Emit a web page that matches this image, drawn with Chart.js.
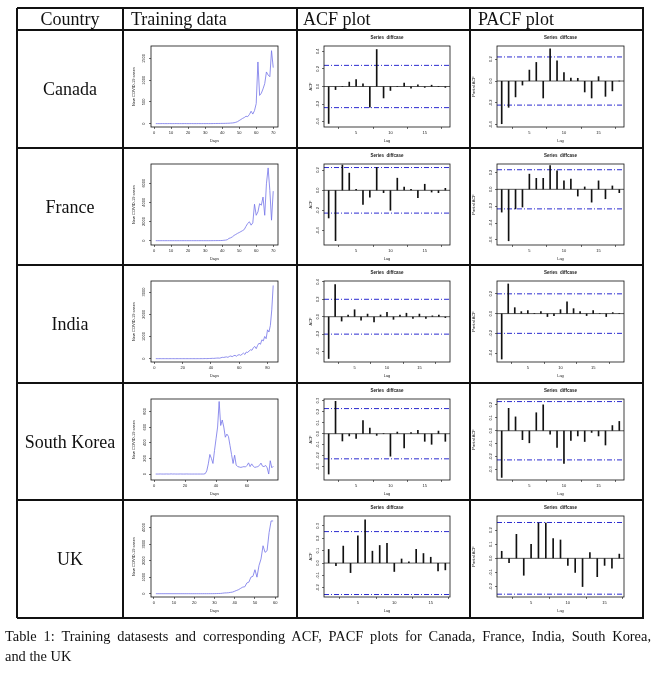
<!DOCTYPE html>
<html><head><meta charset="utf-8">
<script src="https://cdn.jsdelivr.net/npm/chart.js@4.4.1/dist/chart.umd.min.js"></script>
<style>
html,body{margin:0;padding:0;background:#fff;}
body{width:659px;height:673px;position:relative;overflow:hidden;font-family:'Liberation Serif','Times New Roman',serif;color:#111;}
.h{position:absolute;background:#111;height:1.3px;}
.v{position:absolute;background:#111;width:1.3px;}
.t{position:absolute;font-size:18px;white-space:nowrap;line-height:22px;}
.cv{position:absolute;}
#cap{position:absolute;left:5px;top:626px;width:646px;font-size:14.4px;line-height:20px;}
#cap .l1{display:block;text-align:justify;text-align-last:justify;white-space:nowrap;}
</style></head><body>
<div id="root"></div>
<div id="cap"><span class="l1">Table 1: Training datasests and corresponding ACF, PACF plots for Canada, France, India, South Korea,</span>and the UK</div>
<script>
// ---------- data ----------
const countries = ['Canada', 'France', 'India', 'South Korea', 'UK'];
const headers = ['Country', 'Training data', 'ACF plot', 'PACF plot'];
const plotTitle = 'Series  diffcase';

const canadaCases = [0,0,0,0,1,0,0,0,1,0, 0,0,1,0,0,0,0,1,0,0, 0,1,0,0,0,1,0,0,1,0, 1,0,1,1,2,2,3,3,4,5, 5,6,8,9,12,15,20,30,45,70, 95,120,140,170,160,210,285,220,300,460, 1420,650,700,800,920,1190,1120,1080,1680,1290];
const franceCases = [0,0,0,0,0,1,0,0,0,0, 0,0,1,0,0,0,0,0,1,0, 0,0,0,1,0,0,0,2,0,0, 1,2,3,4,6,8,10,12,15,20, 40,60,100,240,300,400,550,650,760,850, 950,1050,1170,1500,1800,1970,1620,1860,3800,2650, 3000,3860,3700,4550,2650,5930,7590,5240,2140,5170];
const indiaCases = [0,0,0,0,0,0,0,0,0,0, 0,0,0,0,0,0,0,0,0,0, 0,0,0,0,0,0,0,0,0,0, 1,0,2,1,3,5,3,6,8,10, 15,12,20,25,30,22,40,60,55,70, 80,60,100,120,90,130,150,110,160,180, 150,200,250,190,300,280,350,400,380,500, 550,450,600,700,650,850,800,1000,900,1300, 1200,1500,2200,3300];
const koreaCases = [0,0,0,1,0,0,0,1,0,0, 2,0,1,0,0,0,1,0,0,0, 1,0,0,0,0,0,0,0,0,0, 0,0,5,40,130,250,200,135,300,450, 600,926,620,690,600,470,510,480,366,250, 135,240,115,95,90,85,90,95,90,110, 143,95,130,100,85,90,95,110,140,100, 95,110,80,0,170,80,100];
const ukCases = [0,0,0,0,0,0,0,0,0,0, 0,0,0,0,0,0,0,0,0,0, 0,0,0,0,1,0,1,2,3,5, 8,12,15,30,45,50,60,80,100,150, 200,250,330,400,420,650,700,1000,1050,1450, 1000,1700,2100,2900,2500,2600,3700,4400,4400];

const canadaAcf = [-0.42,-0.035,0.0,0.05,0.08,0.03,-0.235,0.42,-0.13,-0.045,0.0,0.04,-0.02,0.02,-0.01,0.015,0.0,-0.01];
const canadaPacf = [-0.39,-0.24,-0.145,-0.037,0.10,0.17,-0.155,0.295,0.185,0.077,0.028,0.025,-0.10,-0.155,0.04,-0.14,-0.09,0.0];
const franceAcf = [-0.273,-0.497,0.25,0.17,0.01,-0.14,-0.067,0.227,-0.023,-0.197,0.12,0.033,0.01,-0.073,0.06,-0.017,-0.023,0.02];
const francePacf = [-0.27,-0.61,-0.232,-0.21,0.18,0.13,0.13,0.28,0.22,0.10,0.12,-0.08,0.028,-0.152,0.10,-0.112,0.04,-0.04];
const indiaAcf = [-0.48,0.37,-0.05,0.02,0.08,-0.04,0.03,-0.06,0.02,0.05,-0.03,0.02,0.04,-0.02,0.03,-0.02,0.01,0.02,-0.01];
const indiaPacf = [-0.46,0.30,0.06,0.02,0.03,0.0,0.02,-0.03,-0.02,0.04,0.12,0.05,0.02,-0.02,0.03,0.0,-0.03,0.01,0.0];
const koreaAcf = [-0.366,0.294,-0.066,-0.02,-0.042,0.12,0.051,-0.015,0.0,-0.204,0.015,-0.129,0.01,0.03,-0.069,-0.096,0.024,-0.069];
const koreaPacf = [-0.36,0.173,0.107,-0.069,-0.093,0.139,0.20,-0.027,-0.128,-0.253,-0.075,-0.04,-0.083,-0.013,-0.04,-0.11,0.04,0.072];
const ukAcf = [0.11,-0.022,0.137,-0.077,0.22,0.35,0.096,0.142,0.159,-0.068,0.033,0.01,0.11,0.077,0.047,-0.063,-0.055];
const ukPacf = [0.05,-0.03,0.17,-0.12,0.10,0.25,0.25,0.14,0.13,-0.05,-0.10,-0.20,0.04,-0.13,-0.05,-0.07,0.03];

// confidence bound (±) for each correlogram
const acfBounds = [0.24, 0.225, 0.2, 0.228, 0.254];
const pacfBounds = [0.22, 0.232, 0.2, 0.225, 0.254];

// axis limits  [min, max]
const trainYLim = [[-78,1788],[-450,8000],[-150,3500],[-76,958],[-200,4700]];
const trainXLim = [[-1.8,72.8],[-1.8,72.8],[-2.4,87.4],[-2.0,80.0],[-1.4,61.4]];
const acfYLim = [[-0.46,0.46],[-0.54,0.26],[-0.52,0.41],[-0.42,0.315],[-0.274,0.38]];
const pacfYLim = [[-0.42,0.32],[-0.66,0.30],[-0.49,0.33],[-0.38,0.245],[-0.274,0.30]];

// tick labels
const trainYTicks = [[0,500,1000,1500],[0,2000,4000,6000],[0,1000,2000,3000],[0,200,400,600,800],[0,1000,2000,3000,4000]];
const trainXTicks = [[0,10,20,30,40,50,60,70],[0,10,20,30,40,50,60,70],[0,20,40,60,80],[0,20,40,60],[0,10,20,30,40,50,60]];
const lagTicks = [5, 10, 15];
const acfYTicks = [[-0.4,-0.2,0,0.2,0.4],[-0.4,-0.2,0,0.2],[-0.4,-0.2,0,0.2,0.4],[-0.3,-0.2,-0.1,0,0.1,0.2,0.3],[-0.2,-0.1,0,0.1,0.2,0.3]];
const pacfYTicks = [[-0.4,-0.2,0,0.2],[-0.6,-0.4,-0.2,0,0.2],[-0.4,-0.2,0,0.2],[-0.3,-0.2,-0.1,0,0.1,0.2],[-0.2,-0.1,0,0.1,0.2]];

const series = [canadaCases, franceCases, indiaCases, koreaCases, ukCases];
const acfs = [canadaAcf, franceAcf, indiaAcf, koreaAcf, ukAcf];
const pacfs = [canadaPacf, francePacf, indiaPacf, koreaPacf, ukPacf];

// ---------- layout ----------
const rowTops = [30, 148, 265, 383, 500, 618];
const colX = [17, 123, 297, 470, 643];
const tableTop = 8;
const root = document.getElementById('root');
function el(cls, style, txt) {
  const d = document.createElement('div'); d.className = cls;
  Object.assign(d.style, style); if (txt) d.textContent = txt; root.appendChild(d); return d;
}
[tableTop, ...rowTops].forEach(y => el('h', {left: colX[0] + 'px', top: (y - 0.6) + 'px', width: (colX[4] - colX[0] + 1.3) + 'px'}));
colX.forEach(x => el('v', {left: (x - 0.6) + 'px', top: tableTop + 'px', height: (rowTops[5] - tableTop) + 'px'}));
el('t', {left: colX[0] + 'px', width: (colX[1] - colX[0]) + 'px', textAlign: 'center', top: tableTop + 'px'}, headers[0]);
el('t', {left: (colX[1] + 8) + 'px', top: tableTop + 'px'}, headers[1]);
el('t', {left: (colX[2] + 6) + 'px', top: tableTop + 'px'}, headers[2]);
el('t', {left: (colX[3] + 8) + 'px', top: tableTop + 'px'}, headers[3]);
countries.forEach((c, i) => {
  const top = rowTops[i], h = rowTops[i + 1] - top;
  el('t', {left: colX[0] + 'px', width: (colX[1] - colX[0]) + 'px', textAlign: 'center', top: (top + h / 2 - 11) + 'px'}, c);
});

// ---------- charts ----------
const tinyFont = {family: 'Liberation Sans, Arial, sans-serif', size: 4};
const frame = {
  id: 'frame',
  afterDatasetsDraw(chart) {
    const a = chart.chartArea, ctx = chart.ctx;
    ctx.save(); ctx.strokeStyle = '#111'; ctx.lineWidth = 0.8;
    ctx.strokeRect(a.left, a.top, a.right - a.left, a.bottom - a.top); ctx.restore();
  }
};
const cols = {
  train: {padL: 7, yW: 21, padR: 19},
  acf: {padL: 10, yW: 17, padR: 20},
  pacf: {padL: 0, yW: 27, padR: 19}
};
function canvasAt(col, row) {
  const w = colX[col + 1] - colX[col], h = rowTops[row + 1] - rowTops[row];
  const div = document.createElement('div'); div.className = 'cv';
  Object.assign(div.style, {left: colX[col] + 'px', top: rowTops[row] + 'px', width: w + 'px', height: h + 'px'});
  const cv = document.createElement('canvas'); div.appendChild(cv); root.insertBefore(div, root.firstChild);
  return {cv, h};
}
function axis(lim, tickVals, label, fmt, fitFn, titlePad, vertical) {
  const ticks = {autoSkip: false, font: tinyFont, color: '#222', padding: 1, callback: fmt};
  if (vertical) { ticks.minRotation = 90; ticks.maxRotation = 90; ticks.crossAlign = 'center'; }
  else { ticks.maxRotation = 0; }
  return {
    type: 'linear', min: lim[0], max: lim[1], offset: false,
    grid: {display: true, drawOnChartArea: false, drawTicks: true, tickLength: 2, color: '#111', lineWidth: 0.6},
    border: {display: false},
    afterBuildTicks: s => { s.ticks = tickVals.map(v => ({value: v})); },
    ticks,
    title: {display: true, text: label, font: tinyFont, color: '#222', padding: titlePad},
    afterFit: fitFn
  };
}
const intFmt = v => String(Math.round(v));
const decFmt = v => Number(v).toFixed(1);
function trainChart(row) {
  const {cv, h} = canvasAt(1, row), g = cols.train;
  const data = series[row];
  const days = data.map((_, i) => i + 1);
  new Chart(cv, {
    type: 'line',
    data: {datasets: [{data: days.map((d, i) => ({x: d, y: data[i]})), borderColor: '#7474e8', borderWidth: 0.8, pointRadius: 0, tension: 0}]},
    options: {
      responsive: true, maintainAspectRatio: false, animation: false, events: [],
      layout: {padding: {left: g.padL, right: g.padR, top: 16, bottom: h - 97 - 17}},
      plugins: {legend: {display: false}, tooltip: {enabled: false}},
      scales: {
        x: axis(trainXLim[row], trainXTicks[row], 'Days', intFmt, s => { s.height = 17; }, {top: 0, bottom: 1}, false),
        y: axis(trainYLim[row], trainYTicks[row], 'New COVID-19 cases', intFmt, s => { s.width = g.yW; }, {top: 1.6, bottom: 0}, true)
      }
    },
    plugins: [frame]
  });
}
function corrChart(row, kind) {
  const col = kind === 'acf' ? 2 : 3;
  const {cv, h} = canvasAt(col, row), g = cols[kind];
  const vals = kind === 'acf' ? acfs[row] : pacfs[row];
  const lim = kind === 'acf' ? acfYLim[row] : pacfYLim[row];
  const yt = kind === 'acf' ? acfYTicks[row] : pacfYTicks[row];
  const cb = kind === 'acf' ? acfBounds[row] : pacfBounds[row];
  const n = vals.length;
  const xmin = 1 - 0.04 * (n - 1), xmax = n + 0.04 * (n - 1);
  const lags = vals.map((_, i) => i + 1);
  const hline = (y, color, dash, w) => ({type: 'line', data: [{x: xmin, y}, {x: xmax, y}], borderColor: color, borderWidth: w, borderDash: dash, pointRadius: 0, order: 2});
  new Chart(cv, {
    type: 'bar',
    data: {datasets: [
      {type: 'bar', data: lags.map((l, i) => ({x: l, y: vals[i]})), backgroundColor: '#111', barThickness: 1, order: 1},
      hline(0, '#111', [], 0.7),
      hline(cb, '#2b2bd0', [5, 2, 1, 2], 1),
      hline(-cb, '#2b2bd0', [5, 2, 1, 2], 1)
    ]},
    options: {
      responsive: true, maintainAspectRatio: false, animation: false, events: [],
      layout: {padding: {left: g.padL, right: g.padR, top: 0, bottom: h - 97 - 17}},
      plugins: {legend: {display: false}, tooltip: {enabled: false},
        title: {display: true, text: plotTitle, fullSize: false, font: {family: 'Liberation Sans, Arial, sans-serif', size: 4.5, weight: 'bold'}, color: '#222', padding: {top: 5, bottom: 5.6}}},
      scales: {
        x: axis([xmin, xmax], lagTicks, 'Lag', intFmt, s => { s.height = 17; }, {top: 0, bottom: 1}, false),
        y: axis(lim, yt, kind === 'acf' ? 'ACF' : 'Partial ACF', decFmt, s => { s.width = g.yW; }, {top: 1.6, bottom: 0}, true)
      }
    },
    plugins: [frame]
  });
}
for (let r = 0; r < 5; r++) { trainChart(r); corrChart(r, 'acf'); corrChart(r, 'pacf'); }
</script>
</body></html>
